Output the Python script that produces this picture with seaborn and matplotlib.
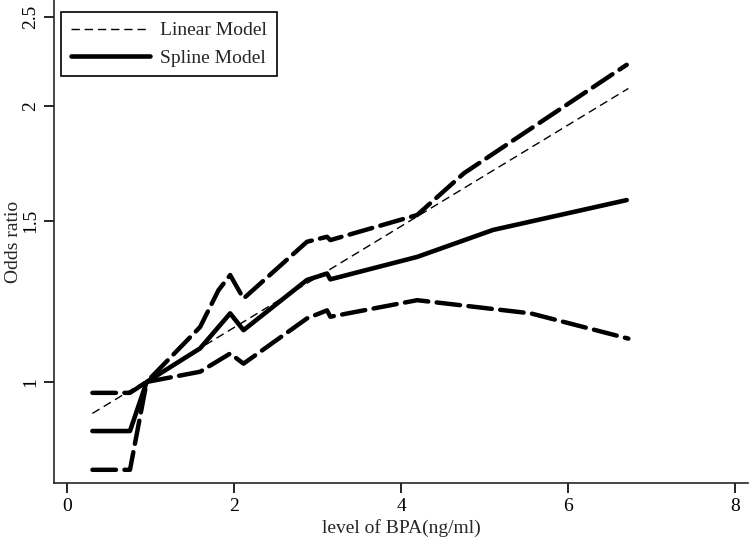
import numpy as np
import pandas as pd
import matplotlib
matplotlib.use("Agg")
import matplotlib.pyplot as plt
import seaborn as sns
from matplotlib.ticker import FixedLocator, FixedFormatter, NullLocator

# ---- data ----
linear_x = [0.30, 6.72]
linear_y = [0.924, 2.09]

spline_x = [0.30, 0.75, 0.95, 1.59, 1.95, 2.11, 2.87, 3.11, 3.15, 4.19, 5.10, 6.70]
spline_y = [0.884, 0.884, 1.0, 1.088, 1.188, 1.139, 1.292, 1.313, 1.294, 1.369, 1.465, 1.579]

upper_x = [0.30, 0.75, 0.95, 1.59, 1.81, 1.95, 2.11, 2.87, 3.11, 3.15, 4.19, 4.75, 5.35, 6.70]
upper_y = [0.973, 0.973, 1.0, 1.148, 1.259, 1.308, 1.233, 1.422, 1.44, 1.428, 1.521, 1.689, 1.837, 2.218]

lower_x = [0.30, 0.75, 0.95, 1.59, 1.95, 2.11, 2.87, 3.11, 3.15, 4.19, 5.55, 6.72]
lower_y = [0.802, 0.802, 1.0, 1.026, 1.074, 1.047, 1.173, 1.197, 1.178, 1.228, 1.188, 1.115]

x_ticks = [0, 2, 4, 6, 8]
y_ticks = [1, 1.5, 2, 2.5]
y_tick_labels = ["1", "1.5", "2", "2.5"]

sns.set_theme(style="ticks")
plt.rcParams['font.family'] = ['Liberation Serif', 'DejaVu Serif']
plt.rcParams['axes.linewidth'] = 1.2

fig = plt.figure(figsize=(7.5, 5.42), dpi=100)
ax = fig.add_axes([0.072, 0.109, 0.925, 0.891])

df_lin = pd.DataFrame({"x": linear_x, "y": linear_y})
df_spl = pd.DataFrame({"x": spline_x, "y": spline_y})
df_up = pd.DataFrame({"x": upper_x, "y": upper_y})
df_lo = pd.DataFrame({"x": lower_x, "y": lower_y})

ci_style = dict(color="black", linewidth=3.2, linestyle=(0, (5.3, 1.9)),
                dash_capstyle="round", solid_capstyle="round", solid_joinstyle="round")

sns.lineplot(data=df_up, x="x", y="y", ax=ax, **ci_style)
sns.lineplot(data=df_lo, x="x", y="y", ax=ax, **ci_style)
sns.lineplot(data=df_lin, x="x", y="y", ax=ax, color="black", linewidth=1.0,
             linestyle=(0, (6, 3.5)), label="Linear Model")
sns.lineplot(data=df_spl, x="x", y="y", ax=ax, color="black", linewidth=3.3,
             solid_capstyle="round", solid_joinstyle="round", label="Spline Model")

ax.set_yscale("log")
ax.set_xlim(-0.16, 8.15)
ax.set_ylim(0.776, 2.61)

ax.yaxis.set_major_locator(FixedLocator(y_ticks))
ax.yaxis.set_major_formatter(FixedFormatter(y_tick_labels))
ax.yaxis.set_minor_locator(NullLocator())
ax.set_xticks(x_ticks)
ax.set_xticklabels([str(t) for t in x_ticks])

ax.tick_params(axis="both", direction="out", length=7, width=1.2, colors="black",
               labelsize=14)
ax.tick_params(axis="y", labelrotation=90)
for lab in ax.get_yticklabels():
    lab.set_verticalalignment("center")

sns.despine(ax=ax)
ax.set_xlabel("level of BPA(ng/ml)", fontsize=14, labelpad=3)
ax.set_ylabel("Odds ratio", fontsize=14, labelpad=0)

handles, labels = ax.get_legend_handles_labels()
leg = ax.legend(handles, labels, loc="upper left",
                bbox_to_anchor=(61 / 750, 1 - 12 / 542), bbox_transform=fig.transFigure,
                borderaxespad=0, fontsize=14, handlelength=4.1, handletextpad=0.5,
                labelspacing=0.5, borderpad=0.5, fancybox=False, framealpha=1,
                edgecolor="black")
leg.get_frame().set_linewidth(1.2)

fig.savefig("out.png", dpi=100)
